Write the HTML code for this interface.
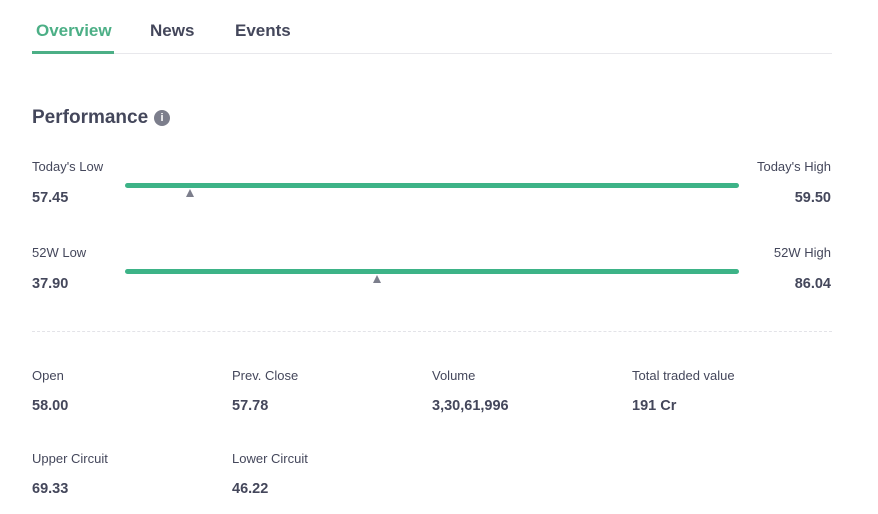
<!DOCTYPE html>
<html><head><style>
body{margin:0;width:878px;height:514px;background:#fff;font-family:"Liberation Sans",sans-serif;position:relative;overflow:hidden}
.a{position:absolute;white-space:nowrap}
.tab{font-size:17px;font-weight:bold;color:#44475b;top:21px}
.lbl{font-size:13px;color:#44475b}
.val{font-size:14.5px;font-weight:bold;color:#44475b}
.bar{position:absolute;left:125px;width:614px;height:5px;background:#3db387;border-radius:3px}
.tri{position:absolute;width:0;height:0;border-left:4px solid transparent;border-right:4px solid transparent;border-bottom:8px solid #7c7e8c}
</style></head><body>
<div class="a tab" style="left:36px;color:#4caf86">Overview</div>
<div class="a tab" style="left:150px">News</div>
<div class="a tab" style="left:235px">Events</div>
<div class="a" style="left:32px;top:53px;width:800px;height:1px;background:#e8e8ec"></div>
<div class="a" style="left:32px;top:51px;width:82px;height:3px;background:#4caf86"></div>
<div class="a" style="left:32px;top:107px;font-size:19px;font-weight:bold;color:#44475b">Performance</div>
<div class="a" style="left:154px;top:110px;width:16px;height:16px;border-radius:50%;background:#7c7e8c;color:#fff;font-size:11px;font-weight:bold;text-align:center;line-height:16px">i</div>

<div class="a lbl" style="left:32px;top:159px">Today's Low</div>
<div class="a val" style="left:32px;top:190px">57.45</div>
<div class="a lbl" style="right:47px;top:159px">Today's High</div>
<div class="a val" style="right:47px;top:190px">59.50</div>
<div class="bar" style="top:183px"></div>
<div class="tri" style="left:186px;top:189px"></div>

<div class="a lbl" style="left:32px;top:245px">52W Low</div>
<div class="a val" style="left:32px;top:276px">37.90</div>
<div class="a lbl" style="right:47px;top:245px">52W High</div>
<div class="a val" style="right:47px;top:276px">86.04</div>
<div class="bar" style="top:269px"></div>
<div class="tri" style="left:373px;top:275px"></div>

<div class="a" style="left:32px;top:331px;width:800px;border-top:1px dashed #e3e3e8"></div>

<div class="a lbl" style="left:32px;top:368px">Open</div>
<div class="a val" style="left:32px;top:398px">58.00</div>
<div class="a lbl" style="left:232px;top:368px">Prev. Close</div>
<div class="a val" style="left:232px;top:398px">57.78</div>
<div class="a lbl" style="left:432px;top:368px">Volume</div>
<div class="a val" style="left:432px;top:398px">3,30,61,996</div>
<div class="a lbl" style="left:632px;top:368px">Total traded value</div>
<div class="a val" style="left:632px;top:398px">191 Cr</div>

<div class="a lbl" style="left:32px;top:451px">Upper Circuit</div>
<div class="a val" style="left:32px;top:481px">69.33</div>
<div class="a lbl" style="left:232px;top:451px">Lower Circuit</div>
<div class="a val" style="left:232px;top:481px">46.22</div>
</body></html>
